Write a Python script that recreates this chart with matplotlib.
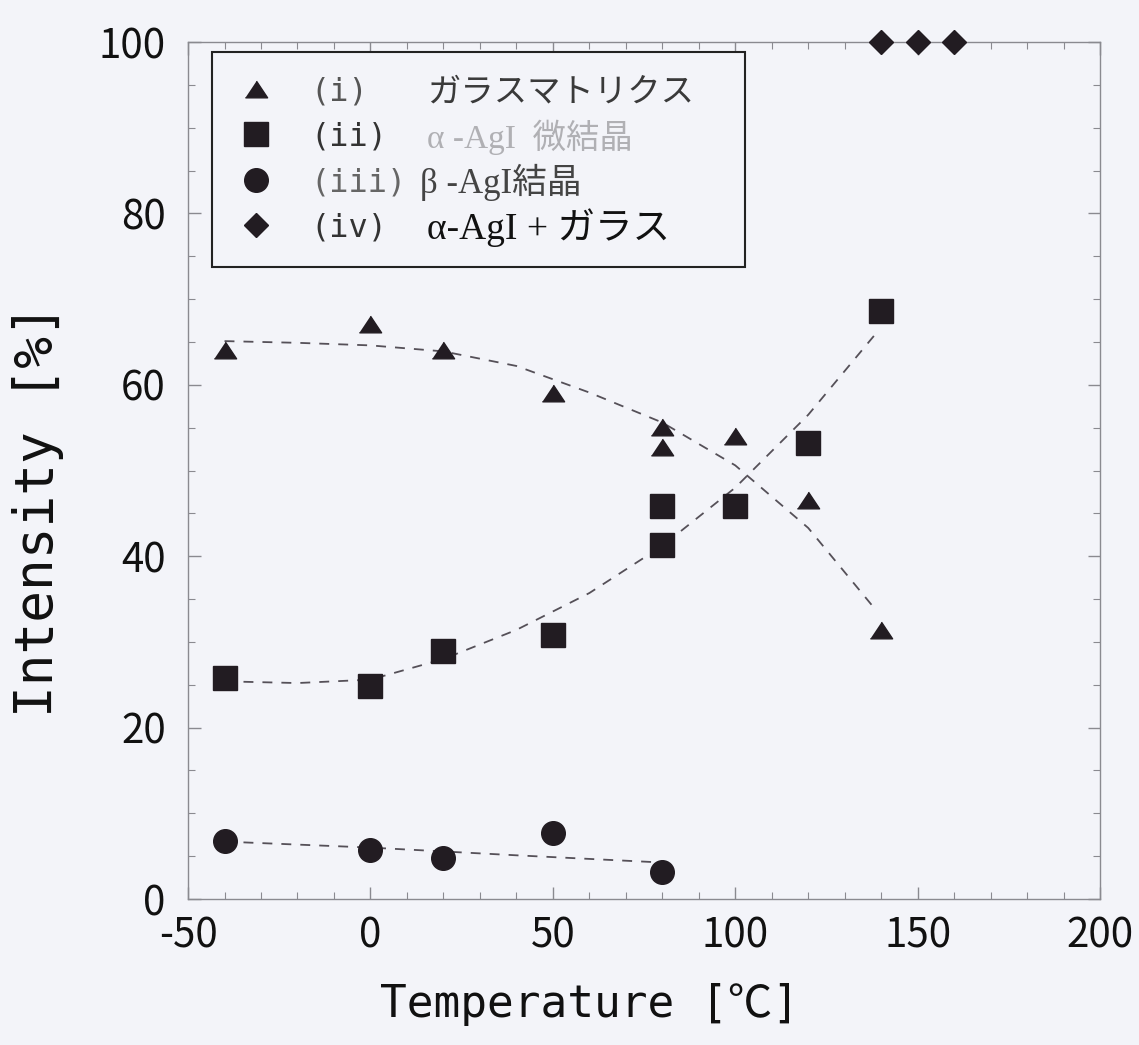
import matplotlib
matplotlib.use("Agg")
import matplotlib.pyplot as plt
import matplotlib.ticker as tick

plt.rcParams['font.family'] = ['Noto Sans CJK JP', 'DejaVu Sans']
plt.rcParams['axes.unicode_minus'] = False

# measured points
temp_i = [-40, 0, 20, 50, 80, 80, 100, 120, 140]
glass_matrix = [64.1, 67.1, 64.1, 59.0, 55.1, 52.8, 54.0, 46.6, 31.4]
temp_ii = [-40, 0, 20, 50, 80, 80, 100, 120, 140]
alpha_micro = [25.8, 24.9, 28.9, 30.8, 45.9, 41.3, 45.9, 53.2, 68.6]
temp_iii = [-40, 0, 20, 50, 80]
beta_cryst = [6.8, 5.7, 4.75, 7.7, 3.1]
temp_iv = [140, 150, 160]
alpha_glass = [100, 100, 100]

# dashed guide curves
guide_x_i = [-40, -20, 0, 20, 40, 60, 80, 100, 120, 138]
guide_y_i = [65.1, 64.9, 64.6, 63.9, 62.2, 59.1, 55.6, 50.6, 43.3, 34.0]
guide_x_ii = [-40, -20, 0, 20, 40, 60, 80, 100, 120, 138]
guide_y_ii = [25.4, 25.2, 25.6, 28.0, 31.4, 35.7, 41.2, 48.0, 56.5, 65.7]
guide_x_iii = [-40, 0, 40, 78]
guide_y_iii = [6.7, 6.0, 5.1, 4.3]

x_ticks = [-50, 0, 50, 100, 150, 200]
y_ticks = [0, 20, 40, 60, 80, 100]

roman_labels = ['(i)', '(ii)', '(iii)', '(iv)']
desc_labels = ['ガラスマトリクス', 'α -AgI  微結晶', 'β -AgI結晶', 'α-AgI + ガラス']

bg = '#f3f4f9'
ink = '#221c22'
guide_col = '#555058'

fig = plt.figure(figsize=(11.39, 10.45), dpi=100, facecolor=bg)
ax = fig.add_axes([0.1651, 0.1397, 0.8007, 0.8201], facecolor=bg)

dash = (0, (5.5, 5))
ax.plot(guide_x_i, guide_y_i, ls=dash, lw=1.3, color=guide_col, zorder=2)
ax.plot(guide_x_ii, guide_y_ii, ls=dash, lw=1.3, color=guide_col, zorder=2)
ax.plot(guide_x_iii, guide_y_iii, ls=dash, lw=1.3, color=guide_col, zorder=2)

# flattened triangle like the original
tri = [(-1, -0.75), (1, -0.75), (0, 0.75)]
h1, = ax.plot(temp_i, glass_matrix, ls='none', marker=tri, ms=16, color=ink, zorder=3)
h2, = ax.plot(temp_ii, alpha_micro, ls='none', marker='s', ms=17, color=ink, zorder=3)
h3, = ax.plot(temp_iii, beta_cryst, ls='none', marker='o', ms=17, color=ink, zorder=3)
h4, = ax.plot(temp_iv, alpha_glass, ls='none', marker='D', ms=12, color=ink, zorder=3,
              clip_on=False)

ax.set_xlim(-50, 200)
ax.set_ylim(0, 100)
ax.set_xticks(x_ticks)
ax.set_yticks(y_ticks)
ax.xaxis.set_minor_locator(tick.MultipleLocator(10))
ax.yaxis.set_minor_locator(tick.MultipleLocator(5))
ax.tick_params(which='both', direction='in', top=True, right=True, color='#8a8a90',
               labelcolor='#111111', labelsize=29)
ax.tick_params(which='major', length=9, width=1)
ax.tick_params(which='minor', length=5, width=0.8)
ax.tick_params(axis='x', pad=12)
ax.tick_params(axis='y', pad=16)
for s in ax.spines.values():
    s.set_color('#8a8a90')
    s.set_linewidth(1)

ax.set_xlabel('Temperature [℃]', family=['DejaVu Sans Mono', 'Noto Sans CJK JP'],
              fontsize=32, color='#111111')
ax.xaxis.set_label_coords(0.44, -0.123)
ax.set_ylabel('Intensity [%]', family=['DejaVu Sans Mono', 'Noto Sans CJK JP'],
              fontsize=38, color='#111111')
ax.yaxis.set_label_coords(-0.165, 0.453)
ax.xaxis.label.set_va('center')
ax.yaxis.label.set_va('center')

leg = ax.legend([h1, h2, h3, h4], roman_labels, loc='upper left',
                bbox_to_anchor=(0.026, 0.736, 0.585, 0.252), mode='expand',
                borderaxespad=0, prop={'family': 'DejaVu Sans Mono', 'size': 23},
                fancybox=False, edgecolor='#222222', facecolor=bg, framealpha=1,
                handlelength=1.3, handletextpad=1.05, borderpad=0.75,
                labelspacing=0.45, numpoints=1)
leg.get_frame().set_linewidth(1.5)
roman_cols = ['#555555', '#333333', '#666666', '#333333']
for t, c in zip(leg.get_texts(), roman_cols):
    t.set_color(c)

desc_x = [0.262, 0.262, 0.254, 0.262]
desc_size = [24, 24, 25, 27]
desc_col = ['#3a3a3a', '#b0b0b4', '#444444', '#111111']
desc_fam = [['Noto Sans CJK JP'],
            ['Liberation Serif', 'Noto Sans CJK JP'],
            ['Liberation Serif', 'Noto Sans CJK JP'],
            ['Liberation Serif', 'Noto Sans CJK JP']]
for t, d, dx, sz, c, fam in zip(leg.get_texts(), desc_labels, desc_x, desc_size,
                                desc_col, desc_fam):
    ax.annotate(d, xy=(dx, 0.5), xycoords=('axes fraction', t), ha='left',
                va='center', fontsize=sz, color=c, family=fam, zorder=6)

fig.savefig('out.png', dpi=100, facecolor=bg)
